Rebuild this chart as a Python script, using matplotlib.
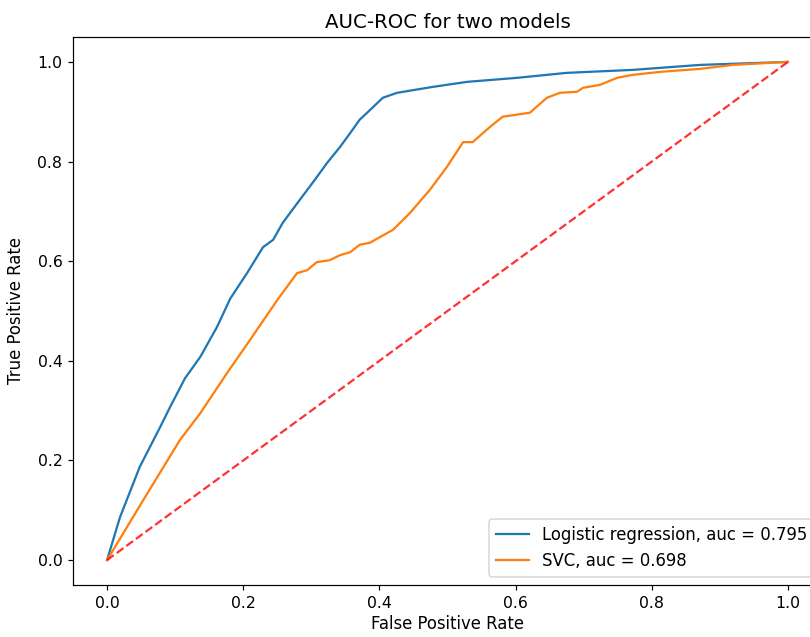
import matplotlib
matplotlib.use("Agg")
import matplotlib.pyplot as plt

# Logistic regression ROC
lr_fpr = [0.0, 0.019, 0.048, 0.078, 0.0925, 0.1145, 0.137, 0.1615, 0.181, 0.2056, 0.229,
          0.244, 0.258, 0.283, 0.305, 0.323, 0.342, 0.357, 0.371, 0.382, 0.405, 0.426,
          0.479, 0.529, 0.602, 0.675, 0.772, 0.871, 1.0]
lr_tpr = [0.0, 0.086, 0.187, 0.267, 0.307, 0.365, 0.408, 0.468, 0.525, 0.576, 0.628,
          0.643, 0.677, 0.723, 0.763, 0.797, 0.829, 0.857, 0.884, 0.898, 0.928, 0.938,
          0.950, 0.960, 0.968, 0.978, 0.984, 0.994, 1.0]

# SVC ROC
svc_fpr = [0.0, 0.053, 0.107, 0.137, 0.176, 0.21, 0.25, 0.279, 0.294, 0.308, 0.327,
           0.342, 0.357, 0.371, 0.386, 0.420, 0.445, 0.474, 0.499, 0.523, 0.537, 0.562,
           0.581, 0.621, 0.646, 0.665, 0.690, 0.699, 0.724, 0.749, 0.772, 0.812, 0.871,
           0.919, 1.0]
svc_tpr = [0.0, 0.120, 0.241, 0.295, 0.375, 0.442, 0.522, 0.576, 0.582, 0.598, 0.602,
           0.612, 0.618, 0.633, 0.637, 0.663, 0.697, 0.743, 0.789, 0.839, 0.839, 0.869,
           0.890, 0.898, 0.928, 0.938, 0.940, 0.948, 0.954, 0.968, 0.974, 0.980, 0.986,
           0.994, 1.0]

chance = [0.0, 1.0]

labels = ["Logistic regression, auc = 0.795", "SVC, auc = 0.698"]

plt.rcParams["font.size"] = 11

fig = plt.figure(figsize=(810 / 108, 637 / 108), dpi=108)
ax = fig.add_axes([73 / 810, 52 / 637, 749 / 810, 548 / 637])

ax.plot(lr_fpr, lr_tpr, label=labels[0], color="#1f77b4", lw=1.5)
ax.plot(svc_fpr, svc_tpr, label=labels[1], color="#ff7f0e", lw=1.5)
ax.plot(chance, chance, "r--", alpha=0.8, lw=1.5)

ax.tick_params(labelsize=10.5)
ax.set_title("AUC-ROC for two models", fontsize=13.2)
ax.set_xlabel("False Positive Rate", labelpad=3)
ax.set_ylabel("True Positive Rate", labelpad=8)
ax.legend(loc="lower right")

fig.savefig("out.png", dpi=108)
